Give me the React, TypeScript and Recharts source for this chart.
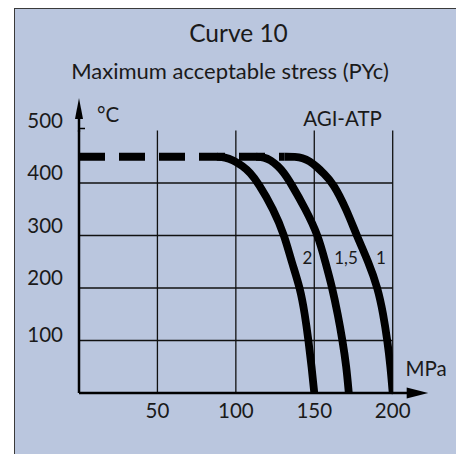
import React from 'react';
import { LineChart, Line, XAxis, YAxis, ReferenceLine, ReferenceDot, Customized } from 'recharts';

const titleText = 'Curve 10';
const subtitleText = 'Maximum acceptable stress (PYc)';
const yUnit = '°C';
const xUnit = 'MPa';
const seriesName = 'AGI-ATP';
const curveLabels = ['2', '1,5', '1'];

const xTicks = [50, 100, 150, 200];
const yTicks = [100, 200, 300, 400, 500];
const gridX = [50, 100, 150, 200];
const gridY = [100, 200, 300, 400];

const dashedPlateau = [
  { mpa: 0, t: 450 },
  { mpa: 131, t: 450 },
];

const curve2 = [
  { mpa: 88, t: 450 },
  { mpa: 93, t: 449 },
  { mpa: 98, t: 444 },
  { mpa: 104.5, t: 432 },
  { mpa: 109, t: 420 },
  { mpa: 114.3, t: 400 },
  { mpa: 124, t: 350 },
  { mpa: 131, t: 300 },
  { mpa: 135.5, t: 250 },
  { mpa: 141, t: 200 },
  { mpa: 144, t: 150 },
  { mpa: 146.3, t: 100 },
  { mpa: 148.3, t: 50 },
  { mpa: 150, t: 0 },
];

const curve15 = [
  { mpa: 113, t: 450 },
  { mpa: 118, t: 449 },
  { mpa: 122, t: 444 },
  { mpa: 127, t: 432 },
  { mpa: 130.5, t: 420 },
  { mpa: 135, t: 400 },
  { mpa: 144.5, t: 350 },
  { mpa: 152.5, t: 300 },
  { mpa: 157, t: 250 },
  { mpa: 161.5, t: 200 },
  { mpa: 165, t: 150 },
  { mpa: 168, t: 100 },
  { mpa: 170.5, t: 50 },
  { mpa: 172, t: 0 },
];

const curve1 = [
  { mpa: 131, t: 450 },
  { mpa: 138, t: 450 },
  { mpa: 142.5, t: 448 },
  { mpa: 147, t: 442 },
  { mpa: 152, t: 430 },
  { mpa: 156, t: 418 },
  { mpa: 162, t: 400 },
  { mpa: 170.5, t: 350 },
  { mpa: 177, t: 300 },
  { mpa: 184.5, t: 250 },
  { mpa: 190.5, t: 200 },
  { mpa: 194, t: 150 },
  { mpa: 196.6, t: 100 },
  { mpa: 198.6, t: 50 },
  { mpa: 200, t: 0 },
];

const FONT = "Lato, 'Noto Sans', sans-serif";
const INK = '#1a1a1a';

const XTick = (props: any) => {
  const { x, y, payload } = props;
  return (
    <text x={x} y={y} dy={25} textAnchor="middle" fontFamily={FONT} fontSize={20.5} fill={INK}>
      {payload.value}
    </text>
  );
};

const YTick = (props: any) => {
  const { x, y, payload } = props;
  const dy = payload.value === 100 ? 1 : -3;
  return (
    <text x={x} y={y} dy={dy} textAnchor="end" fontFamily={FONT} fontSize={20.5} fill={INK}>
      {payload.value}
    </text>
  );
};

const YArrow = (props: any) => {
  const { cx, cy } = props;
  return (
    <g>
      <line x1={cx} y1={cy + 1} x2={cx} y2={cy - 14} stroke="#000" strokeWidth={2.5} />
      <polygon points={`${cx - 4},${cy - 11.5} ${cx + 4},${cy - 11.5} ${cx},${cy - 32.5}`} fill="#000" />
      <line x1={cx} y1={cy - 2} x2={cx + 6} y2={cy - 2} stroke="#000" strokeWidth={1.5} />
    </g>
  );
};

const XArrow = (props: any) => {
  const { cx, cy } = props;
  return (
    <g>
      <line x1={cx - 1} y1={cy} x2={cx + 16} y2={cy} stroke="#000" strokeWidth={2.5} />
      <polygon points={`${cx + 14},${cy - 5.5} ${cx + 14},${cy + 5.5} ${cx + 35.5},${cy}`} fill="#000" />
    </g>
  );
};

const Annotations = () => (
  <g fontFamily={FONT} fill={INK}>
    <text x={238.5} y={42} textAnchor="middle" fontSize={24.5}>{titleText}</text>
    <text x={230} y={78.5} textAnchor="middle" fontSize={22}>{subtitleText}</text>
    <text x={97} y={121.5} fontSize={20.5}>{yUnit}</text>
    <text x={342.5} y={125.5} textAnchor="middle" fontSize={20.5}>{seriesName}</text>
    <text x={426} y={375.5} textAnchor="middle" fontSize={20.5}>{xUnit}</text>
    <text x={307.5} y={264} textAnchor="middle" fontSize={17}>{curveLabels[0]}</text>
    <text x={346} y={264} textAnchor="middle" fontSize={17}>{curveLabels[1]}</text>
    <text x={381} y={264} textAnchor="middle" fontSize={17}>{curveLabels[2]}</text>
  </g>
);

export default function App() {
  return (
    <div style={{ position: 'absolute', left: 0, top: 0, width: 456, height: 454, background: '#fff', overflow: 'hidden' }}>
      <div
        style={{
          position: 'absolute',
          left: 14,
          top: 8,
          right: -2,
          bottom: -2,
          background: '#BAC6DE',
          borderLeft: '1.5px solid #3a3a3a',
          borderTop: '1.5px solid #3a3a3a',
        }}
      />
      <div style={{ position: 'absolute', left: 0, top: 0 }}>
        <LineChart width={456} height={454} margin={{ top: 130.5, right: 63.3, bottom: 31, left: 19 }}>
          <XAxis
            type="number"
            dataKey="mpa"
            domain={[0, 200]}
            ticks={xTicks}
            allowDataOverflow
            tickLine={false}
            tickSize={0}
            tickMargin={0}
            height={30}
            axisLine={{ stroke: '#000', strokeWidth: 2.5 }}
            tick={<XTick />}
          />
          <YAxis
            type="number"
            dataKey="t"
            domain={[0, 500]}
            ticks={yTicks}
            allowDataOverflow
            tickLine={false}
            tickSize={0}
            tickMargin={16}
            width={60}
            axisLine={{ stroke: '#000', strokeWidth: 2.5 }}
            tick={<YTick />}
          />
          {gridX.map((v) => (
            <ReferenceLine key={`gx${v}`} x={v} stroke="#111" strokeWidth={1.3} />
          ))}
          {gridY.map((v) => (
            <ReferenceLine key={`gy${v}`} y={v} stroke="#111" strokeWidth={1.3} />
          ))}
          <Line
            data={dashedPlateau}
            dataKey="t"
            type="linear"
            stroke="#000"
            strokeWidth={7.8}
            strokeDasharray="26 14"
            dot={false}
            activeDot={false}
            isAnimationActive={false}
          />
          <Line data={curve2} dataKey="t" type="basis" stroke="#000" strokeWidth={7.8} dot={false} activeDot={false} isAnimationActive={false} />
          <Line data={curve15} dataKey="t" type="basis" stroke="#000" strokeWidth={7.8} dot={false} activeDot={false} isAnimationActive={false} />
          <Line data={curve1} dataKey="t" type="basis" stroke="#000" strokeWidth={7.8} dot={false} activeDot={false} isAnimationActive={false} />
          <ReferenceDot x={0} y={500} r={0} ifOverflow="visible" shape={YArrow} />
          <ReferenceDot x={200} y={0} r={0} ifOverflow="visible" shape={XArrow} />
          <Customized component={Annotations} />
        </LineChart>
      </div>
    </div>
  );
}
